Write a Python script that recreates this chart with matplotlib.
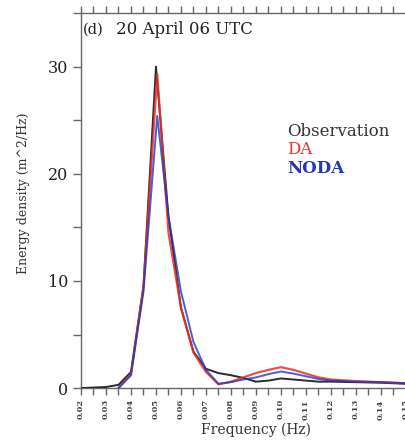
import matplotlib
matplotlib.use("Agg")
import matplotlib.pyplot as plt
from matplotlib.ticker import MultipleLocator, FixedLocator

# ---- data ----
obs_freq = [0.02, 0.025, 0.03, 0.035, 0.04, 0.045, 0.05, 0.055, 0.06, 0.065, 0.07,
            0.075, 0.08, 0.085, 0.09, 0.095, 0.10, 0.105, 0.11, 0.115, 0.12, 0.13,
            0.14, 0.15, 0.16]
obs_energy = [0.0, 0.05, 0.1, 0.3, 1.5, 9.5, 30.0, 16.0, 7.5, 3.4, 1.8,
              1.4, 1.2, 0.95, 0.6, 0.7, 0.9, 0.8, 0.7, 0.6, 0.6, 0.55,
              0.5, 0.4, 0.35]

model_freq = [0.035, 0.04, 0.045, 0.0505, 0.055, 0.06, 0.065, 0.07, 0.075, 0.08,
              0.085, 0.09, 0.095, 0.10, 0.105, 0.11, 0.115, 0.12, 0.13, 0.14,
              0.15, 0.16]
da_energy = [0.0, 1.3, 9.5, 29.3, 14.5, 7.5, 3.3, 1.5, 0.35, 0.6,
             1.0, 1.4, 1.7, 1.95, 1.7, 1.35, 1.0, 0.8, 0.65, 0.55,
             0.45, 0.4]
noda_energy = [0.0, 1.2, 9.0, 25.4, 16.0, 9.0, 4.3, 1.7, 0.4, 0.55,
               0.8, 1.0, 1.3, 1.55, 1.35, 1.1, 0.85, 0.7, 0.6, 0.55,
               0.45, 0.4]

xtick_labels = ["0.02", "0.03", "0.04", "0.05", "0.06", "0.07", "0.08", "0.09",
                "0.10", "0.11", "0.12", "0.13", "0.14", "0.15"]
xtick_values = [float(s) for s in xtick_labels]

serif = ["DejaVu Serif", "Liberation Serif"]
plt.rcParams["font.family"] = serif

obs_color = "#2b2b2b"
da_color = "#e8302a"
noda_color = "#2436c0"
spine_color = "#666666"

fig = plt.figure(figsize=(4.05, 4.41), dpi=100)
ax = fig.add_axes([0.2, 0.12, 0.864, 0.8503])

ax.plot(obs_freq, obs_energy, color=obs_color, lw=1.4, zorder=3)
ax.plot(model_freq, da_energy, color=da_color, lw=1.6, alpha=0.85, zorder=4)
ax.plot(model_freq, noda_energy, color=noda_color, lw=1.4, alpha=0.8, zorder=5)

ax.set_xlim(0.02, 0.16)
ax.set_ylim(0, 35)

ax.spines["right"].set_visible(False)
for side in ["left", "bottom", "top"]:
    ax.spines[side].set_color(spine_color)
    ax.spines[side].set_linewidth(1.0)

ax.yaxis.set_major_locator(MultipleLocator(10))
ax.yaxis.set_minor_locator(MultipleLocator(5))
ax.tick_params(axis="y", which="both", direction="out", length=6, width=1,
               color=spine_color, labelsize=11.5, pad=3, labelcolor="#222222")

ax.xaxis.set_major_locator(FixedLocator(xtick_values))
ax.set_xticklabels(xtick_labels, rotation=90, fontsize=6, fontweight="bold",
                   color="#444444")
ax.xaxis.set_minor_locator(MultipleLocator(0.005))
ax.tick_params(axis="x", which="both", direction="out", length=5, width=1,
               color=spine_color, pad=3, top=True, labeltop=False)

ax.set_xlabel("Frequency (Hz)", fontsize=10, color="#333333", labelpad=2)
ax.set_ylabel("Energy density (m^2/Hz)", fontsize=9, color="#333333")
ax.yaxis.set_label_coords(-0.145, 0.52)

ax.text(0.004, 0.975, "(d)", transform=ax.transAxes, fontsize=10.5,
        va="top", ha="left", color="#222222")
ax.text(0.1, 0.98, "20 April 06 UTC", transform=ax.transAxes, fontsize=12,
        va="top", ha="left", color="#222222")

ax.text(0.588, 0.685, "Observation", transform=ax.transAxes, fontsize=12,
        color="#333333", va="center", ha="left")
ax.text(0.588, 0.635, "DA", transform=ax.transAxes, fontsize=12,
        color=da_color, va="center", ha="left")
ax.text(0.588, 0.585, "NODA", transform=ax.transAxes, fontsize=12,
        color=noda_color, va="center", ha="left", fontweight="bold")

fig.savefig("out.png", dpi=100)
